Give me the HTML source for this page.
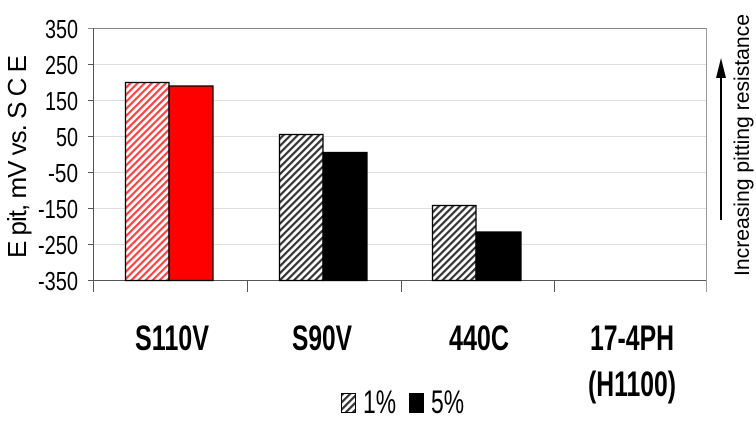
<!DOCTYPE html>
<html><head><meta charset="utf-8"><style>
html,body{margin:0;padding:0;background:#fff;}
svg{display:block;}
text{font-family:"Liberation Sans",sans-serif;}
</style></head><body>
<svg width="756" height="423" viewBox="0 0 756 423" xmlns="http://www.w3.org/2000/svg">
<defs>
<pattern id="hr" width="5" height="5" patternUnits="userSpaceOnUse" patternTransform="rotate(45)">
<rect width="5" height="5" fill="#fff"/><rect width="2.2" height="5" fill="#ff4040"/></pattern>
<pattern id="hk" width="5" height="5" patternUnits="userSpaceOnUse" patternTransform="rotate(45)">
<rect width="5" height="5" fill="#fff"/><rect width="2.2" height="5" fill="#333"/></pattern>
</defs>
<g stroke="#ddd" stroke-width="1">
<line x1="93" y1="64.5" x2="706" y2="64.5"/><line x1="93" y1="100.5" x2="706" y2="100.5"/>
<line x1="93" y1="136.5" x2="706" y2="136.5"/><line x1="93" y1="172.5" x2="706" y2="172.5"/>
<line x1="93" y1="208.5" x2="706" y2="208.5"/><line x1="93" y1="244.5" x2="706" y2="244.5"/>
</g>
<line x1="88" y1="28.5" x2="706" y2="28.5" stroke="#888"/>
<line x1="706.5" y1="28" x2="706.5" y2="292" stroke="#999"/>
<g stroke="#555" stroke-width="1">
<line x1="93.5" y1="28" x2="93.5" y2="292"/>
<line x1="88" y1="280.5" x2="706" y2="280.5"/>
<line x1="88" y1="64.5" x2="93" y2="64.5"/><line x1="88" y1="100.5" x2="93" y2="100.5"/>
<line x1="88" y1="136.5" x2="93" y2="136.5"/><line x1="88" y1="172.5" x2="93" y2="172.5"/>
<line x1="88" y1="208.5" x2="93" y2="208.5"/><line x1="88" y1="244.5" x2="93" y2="244.5"/>
<line x1="247.5" y1="280" x2="247.5" y2="292"/><line x1="401.5" y1="280" x2="401.5" y2="292"/>
<line x1="554.5" y1="280" x2="554.5" y2="292"/>
</g>
<g stroke="#000" stroke-width="1.3">
<rect x="125.5" y="82.5" width="43.5" height="198" fill="url(#hr)"/>
<rect x="169" y="86" width="44" height="194.5" fill="#f00"/>
<rect x="279.5" y="134.5" width="43.5" height="146" fill="url(#hk)"/>
<rect x="323" y="152.5" width="44" height="128" fill="#000"/>
<rect x="432.5" y="205.5" width="43.5" height="75" fill="url(#hk)"/>
<rect x="476" y="232" width="45" height="48.5" fill="#000"/>
</g>
<g font-size="26" text-anchor="end" fill="#000">
<text x="78" y="38" textLength="33" lengthAdjust="spacingAndGlyphs">350</text>
<text x="78" y="74" textLength="33" lengthAdjust="spacingAndGlyphs">250</text>
<text x="78" y="110" textLength="33" lengthAdjust="spacingAndGlyphs">150</text>
<text x="78" y="146" textLength="22" lengthAdjust="spacingAndGlyphs">50</text>
<text x="78" y="182" textLength="30" lengthAdjust="spacingAndGlyphs">-50</text>
<text x="78" y="218" textLength="40" lengthAdjust="spacingAndGlyphs">-150</text>
<text x="78" y="254" textLength="40" lengthAdjust="spacingAndGlyphs">-250</text>
<text x="78" y="290" textLength="40" lengthAdjust="spacingAndGlyphs">-350</text>
</g>
<text transform="translate(26,258) rotate(-90)" font-size="26" textLength="203" lengthAdjust="spacing">E pit, mV vs. S C E</text>
<text transform="translate(749,276) rotate(-90)" font-size="21" textLength="262" lengthAdjust="spacingAndGlyphs">Increasing pitting resistance</text>
<line x1="721" y1="220" x2="721" y2="76" stroke="#000" stroke-width="2"/>
<polygon points="721,58 716,78 726,78" fill="#000"/>
<g font-size="35" font-weight="bold" text-anchor="middle">
<text x="172" y="350" textLength="74" lengthAdjust="spacingAndGlyphs">S110V</text>
<text x="322" y="350" textLength="60" lengthAdjust="spacingAndGlyphs">S90V</text>
<text x="479" y="350" textLength="60" lengthAdjust="spacingAndGlyphs">440C</text>
<text x="632" y="350" textLength="84" lengthAdjust="spacingAndGlyphs">17-4PH</text>
<text x="632" y="396" textLength="88" lengthAdjust="spacingAndGlyphs">(H1100)</text>
</g>
<rect x="341.5" y="393.5" width="14" height="19" fill="url(#hk)" stroke="#000"/>
<rect x="409.5" y="393.5" width="14" height="19" fill="#000" stroke="#000"/>
<text x="363" y="413" font-size="32" textLength="33" lengthAdjust="spacingAndGlyphs">1%</text>
<text x="431" y="413" font-size="32" textLength="33" lengthAdjust="spacingAndGlyphs">5%</text>
</svg>
</body></html>
